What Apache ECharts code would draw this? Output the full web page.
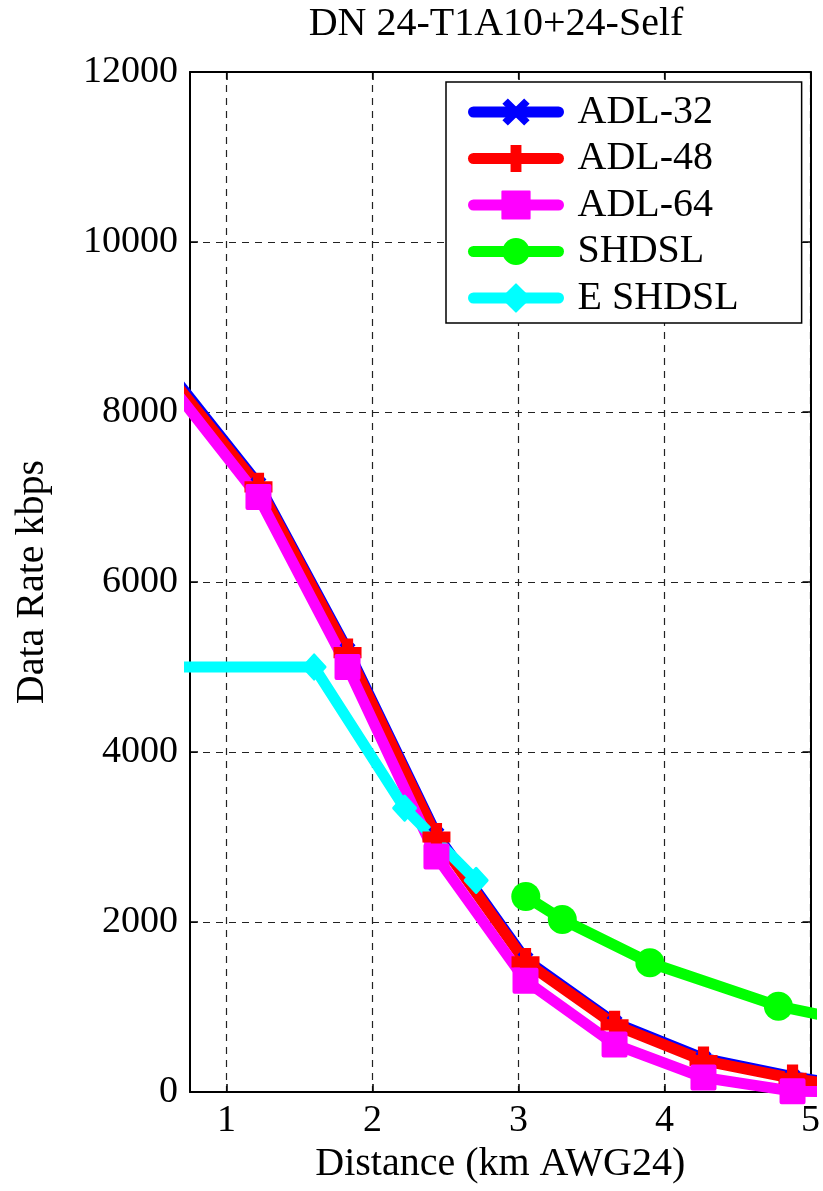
<!DOCTYPE html>
<html><head><meta charset="utf-8">
<script src="https://cdn.jsdelivr.net/npm/echarts@6/dist/echarts.min.js"></script>
<style>html,body{margin:0;padding:0;background:#fff}#c{width:823px;height:1191px}</style>
</head><body><div id="c"></div>
<script>
const titleText = 'DN 24-T1A10+24-Self';
const xName = 'Distance (km AWG24)';
const yName = 'Data Rate kbps';
const xTicks = [1, 2, 3, 4, 5];
const seriesNames = ['ADL-32', 'ADL-48', 'ADL-64', 'SHDSL', 'E SHDSL'];
const adlDistance = [0.61, 1.219, 1.829, 2.438, 3.048, 3.658, 4.267, 4.877, 5.486];
const adl32 = [8470, 7150, 5200, 3030, 1560, 815, 395, 180, 15];
const adl48 = [8420, 7120, 5170, 3000, 1530, 790, 370, 160, 0];
const adl64 = [8330, 7000, 5000, 2770, 1310, 560, 170, 10, 0];
const shdslDistance = [3.05, 3.3, 3.9, 4.78, 5.2];
const shdsl = [2300, 2030, 1520, 1010, 860];
const eshdslDistance = [0.61, 1.6, 2.22, 2.71];
const eshdsl = [5000, 5000, 3340, 2490];

const FONT = '"Liberation Serif", "Times New Roman", serif';
const pair = (xs, ys) => xs.map((x, i) => [x, ys[i]]);
const plusPath = 'path://M3,0H7V3H10V7H7V10H3V7H0V3H3Z';
const xPath = 'path://M2,0L5,3L8,0L10,2L7,5L10,8L8,10L5,7L2,10L0,8L3,5L0,2Z';
const LW = 11;

function mkSeries(name, data, color, symbol, size, border) {
  return {
    name, type: 'line', data, clip: true,
    symbol, symbolSize: size, showSymbol: true,
    lineStyle: { color, width: LW, cap: 'round', join: 'round' },
    itemStyle: { color, borderColor: color, borderWidth: border || 0, borderJoin: 'round' },
    emphasis: { disabled: true },
    z: 3
  };
}

const chart = echarts.init(document.getElementById('c'), null, { renderer: 'canvas' });
chart.setOption({
  animation: false,
  backgroundColor: '#fff',
  graphic: [{
    type: 'text', x: 496, y: 4,
    style: { text: titleText, font: '40px ' + FONT, fill: '#000', textAlign: 'center', textVerticalAlign: 'top' }
  }],
  grid: { left: 190, right: 8, top: 72, bottom: 99, containLabel: false },
  legend: {
    orient: 'vertical', left: 446, top: 82,
    itemWidth: 85, itemHeight: 34, itemGap: 6.5,
    padding: [10, 63, 5, 22],
    borderColor: '#000', borderWidth: 1.5, backgroundColor: '#fff',
    lineStyle: { width: LW, cap: 'round' },
    textStyle: { fontSize: 40, fontFamily: FONT, color: '#000', padding: [0, 0, 0, 14] },
    data: seriesNames,
    selectedMode: false,
    z: 10
  },
  xAxis: [{
    type: 'value', min: 0.75, max: 5, position: 'bottom',
    name: xName, nameLocation: 'middle', nameGap: 52,
    nameTextStyle: { fontSize: 40, fontFamily: FONT, color: '#000' },
    axisLine: { show: true, lineStyle: { color: '#000', width: 2 } },
    axisTick: { show: true, inside: true, length: 8, customValues: xTicks, lineStyle: { color: '#000', width: 1.5 } },
    axisLabel: { customValues: xTicks, fontSize: 38, fontFamily: FONT, color: '#000', margin: 10 },
    splitLine: { show: true, lineStyle: { color: '#222', type: [7, 6], width: 1.2 } }
  }, {
    type: 'value', min: 0.75, max: 5, position: 'top',
    axisLine: { show: true, onZero: false, lineStyle: { color: '#000', width: 2 } },
    axisTick: { show: true, inside: true, length: 8, customValues: xTicks, lineStyle: { color: '#000', width: 1.5 } },
    axisLabel: { show: false },
    splitLine: { show: false }
  }],
  yAxis: [{
    type: 'value', min: 0, max: 12000, interval: 2000, position: 'left',
    name: yName, nameLocation: 'middle', nameGap: 138,
    nameTextStyle: { fontSize: 40, fontFamily: FONT, color: '#000' },
    axisLine: { show: true, lineStyle: { color: '#000', width: 2 } },
    axisTick: { show: true, inside: true, length: 8, lineStyle: { color: '#000', width: 1.5 } },
    axisLabel: { fontSize: 38, fontFamily: FONT, color: '#000', margin: 12, formatter: v => String(v) },
    splitLine: { show: true, lineStyle: { color: '#222', type: [7, 6], width: 1.2 } }
  }, {
    type: 'value', min: 0, max: 12000, interval: 2000, position: 'right',
    axisLine: { show: true, onZero: false, lineStyle: { color: '#000', width: 2 } },
    axisTick: { show: true, inside: true, length: 8, lineStyle: { color: '#000', width: 1.5 } },
    axisLabel: { show: false },
    splitLine: { show: false }
  }],
  series: [
    mkSeries(seriesNames[0], pair(adlDistance, adl32), '#0000ff', xPath, 16, 0),
    mkSeries(seriesNames[1], pair(adlDistance, adl48), '#ff0000', plusPath, 28, 0),
    mkSeries(seriesNames[2], pair(adlDistance, adl64), '#ff00ff', 'rect', 22, 4),
    mkSeries(seriesNames[3], pair(shdslDistance, shdsl), '#00ff00', 'circle', 29, 0),
    mkSeries(seriesNames[4], pair(eshdslDistance, eshdsl), '#00ffff', 'diamond', [22, 24], 3)
  ]
});
</script>
</body></html>
